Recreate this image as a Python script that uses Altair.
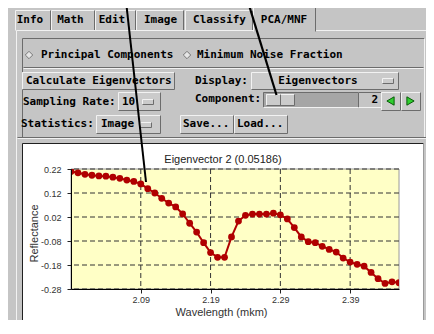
import altair as alt
import pandas as pd

# ---------------- data ----------------
wavelength = [1.99, 2.00, 2.01, 2.02, 2.03, 2.04, 2.05, 2.06, 2.07, 2.08,
              2.09, 2.10, 2.11, 2.12, 2.13, 2.14, 2.15, 2.16, 2.17, 2.18,
              2.19, 2.20, 2.21, 2.22, 2.23, 2.24, 2.25, 2.26, 2.27, 2.28,
              2.29, 2.30, 2.31, 2.32, 2.33, 2.34, 2.35, 2.36, 2.37, 2.38,
              2.39, 2.40, 2.41, 2.42, 2.43, 2.44, 2.45, 2.46]
eigenvector = [0.210, 0.204, 0.198, 0.194, 0.191, 0.190, 0.186, 0.181, 0.174, 0.168,
               0.158, 0.138, 0.120, 0.098, 0.078, 0.062, 0.033, -0.006, -0.043, -0.087,
               -0.128, -0.148, -0.148, -0.063, 0.003, 0.027, 0.032, 0.032, 0.032, 0.036,
               0.029, 0.012, -0.024, -0.063, -0.083, -0.087, -0.102, -0.115, -0.126, -0.151,
               -0.168, -0.177, -0.185, -0.211, -0.237, -0.257, -0.250, -0.254]
x_ticks = [2.09, 2.19, 2.29, 2.39]
y_ticks = [-0.28, -0.18, -0.08, 0.02, 0.12, 0.22]
title_text = "Eigenvector 2 (0.05186)"
x_title = "Wavelength (mkm)"
y_title = "Reflectance"

df = pd.DataFrame({"w": wavelength, "v": eigenvector})
gx = pd.DataFrame({"w": x_ticks})
gy = pd.DataFrame({"v": y_ticks})
one = pd.DataFrame({"k": [0]})

# ---------------- styles ----------------
MONO = "DejaVu Sans Mono"
SANS = "Liberation Sans"
BG = "#c5c5c5"
FACE = "#cbcbcb"
HI = "#f2f2f2"
LO = "#6c6c6c"
RED = "#b00000"
PW, PH = 328, 120
OX, OY = 71, 169   # window position of the plot origin

xs = alt.Scale(domain=[1.99, 2.46], nice=False, zero=False)
ys = alt.Scale(domain=[-0.28, 0.22], nice=False, zero=False)
xaxis = alt.Axis(values=x_ticks, format=".2f", grid=False, title=x_title,
                 labelFont=SANS, labelFontSize=9, labelColor="#333", labelPadding=2,
                 tickSize=4, tickColor="#222", domainColor="#000",
                 titleFont=SANS, titleFontSize=11, titleFontWeight="normal", titleColor="#333",
                 titleX=150, titleY=26, titleBaseline="alphabetic", titleAnchor="middle",
                 zindex=1)
yaxis = alt.Axis(values=y_ticks, grid=False, title=y_title,
                 labelExpr="(datum.value < -0.0001 ? '-' : '') + format(abs(datum.value), '.2f')",
                 labelFont=SANS, labelFontSize=9, labelColor="#333", labelPadding=6,
                 tickSize=4, tickColor="#222", domainColor="#000",
                 titleFont=SANS, titleFontSize=11, titleFontWeight="normal", titleColor="#333",
                 titleAngle=270, titleX=-34, titleY=64, titleBaseline="alphabetic",
                 titleAlign="center", zindex=1)
X = alt.X("w:Q", scale=xs, axis=xaxis)
Y = alt.Y("v:Q", scale=ys, axis=yaxis)


# ---------------- decoration helpers (GUI frame) ----------------
def rect(x1, y1, x2, y2, fill, stroke=None):
    kw = {"fill": fill}
    if stroke:
        kw.update(stroke=stroke, strokeWidth=1)
    else:
        kw.update(strokeWidth=0)
    return alt.Chart(one).mark_rect(**kw).encode(
        x=alt.value(x1 - OX), x2=alt.value(x2 - OX),
        y=alt.value(y1 - OY), y2=alt.value(y2 - OY))


def seg(x1, y1, x2, y2, color, w=1, off=0.5):
    return alt.Chart(one).mark_rule(color=color, strokeWidth=w).encode(
        x=alt.value(x1 - OX + off), x2=alt.value(x2 - OX + off),
        y=alt.value(y1 - OY + off), y2=alt.value(y2 - OY + off))


def bevel(x1, y1, x2, y2, face=FACE, raised=True, fill=True):
    a, b = (HI, LO) if raised else (LO, HI)
    out = [rect(x1, y1, x2, y2, face)] if fill else []
    out += [seg(x1, y1, x2, y1, a), seg(x1, y1, x1, y2, a),
            seg(x1, y2, x2, y2, b), seg(x2, y1, x2, y2, b)]
    return out


def label(x, y, s, align="left", size=11, font=MONO, weight="bold",
          color="#000", baseline="middle"):
    return alt.Chart(one).mark_text(text=s, align=align, baseline=baseline, font=font,
                                    fontSize=size, fontWeight=weight, color=color).encode(
        x=alt.value(x - OX), y=alt.value(y - OY))


def sym(x, y, shape, size, fill, stroke):
    return alt.Chart(one).mark_point(shape=shape, size=size, filled=True, fill=fill,
                                     stroke=stroke, strokeWidth=1, opacity=1).encode(
        x=alt.value(x - OX), y=alt.value(y - OY))


layers = []
tabs = [("Info", 15, 50), ("Math", 51, 94), ("Edit", 95, 135),
        ("Image", 136, 183), ("Classify", 185, 252)]
for name, a, b in tabs:
    layers += [rect(a, 10, b, 30, BG), seg(a, 10, b, 10, HI), seg(a, 10, a, 30, HI),
               seg(b, 10, b, 30, LO)]
layers += bevel(16, 30, 430, 345, BG, True)
layers += [rect(253, 7, 315, 32, BG), seg(253, 7, 315, 7, HI), seg(253, 7, 253, 31, HI),
           seg(315, 7, 315, 31, LO)]
layers += bevel(22, 38, 424, 137, BG, False, fill=False)
layers += [seg(23, 67, 423, 67, LO), seg(23, 68, 423, 68, HI),
           seg(17, 137, 429, 137, LO), seg(17, 138, 429, 138, HI)]
layers += bevel(22, 72, 174, 89)
layers += bevel(251, 72, 398, 89)
layers += bevel(382, 78, 393, 83)
layers += bevel(118, 92, 160, 110)
layers += bevel(142, 99, 153, 104)
layers += bevel(263, 92, 358, 107, "#a6a6a6", False)
layers += bevel(266, 94, 294, 105)
layers += [seg(280, 94, 280, 105, LO)]
layers += bevel(358, 92, 381, 107, BG, False)
layers += bevel(381, 92, 400, 110)
layers += bevel(401, 92, 420, 110)
layers += bevel(96, 115, 160, 133)
layers += bevel(140, 122, 151, 127)
layers += bevel(180, 115, 233, 133)
layers += bevel(234, 115, 287, 133)
layers += [rect(23, 144, 423, 345, "#ffffff"), seg(22, 143, 423, 143, "#202020"),
           seg(22, 143, 22, 345, "#202020"), seg(423, 143, 423, 345, "#9a9a9a")]

# ---------------- plot ----------------
layers.append(alt.Chart(one).mark_rect(fill="#ffffc6", stroke="#9a9a9a", strokeWidth=1).encode(
    x=alt.value(0), x2=alt.value(PW), y=alt.value(0), y2=alt.value(PH)))
layers.append(alt.Chart(gx).mark_rule(color="#333", strokeWidth=1, strokeDash=[5, 3]).encode(x=X))
layers.append(alt.Chart(gy).mark_rule(color="#333", strokeWidth=1, strokeDash=[5, 3]).encode(y=Y))
layers.append(alt.Chart(df).mark_line(color=RED, strokeWidth=2, clip=True).encode(x=X, y=Y))
layers.append(alt.Chart(df).mark_circle(color=RED, size=46, opacity=1, clip=True).encode(x=X, y=Y))
layers.append(label(223, 163, title_text, align="center", font=SANS, weight="normal",
                    color="#222", baseline="alphabetic"))

for name, cx in [("Info", 30), ("Math", 70.5), ("Edit", 112), ("Image", 160.5),
                 ("Classify", 219.5), ("PCA/MNF", 284)]:
    layers.append(label(cx, 20, name, align="center"))
layers += [sym(29, 55, "diamond", 55, "#e6e6e6", "#777"),
           sym(187, 55, "diamond", 55, "#e6e6e6", "#777"),
           label(41, 55, "Principal Components"),
           label(197, 55, "Minimum Noise Fraction"),
           label(26, 81, "Calculate Eigenvectors"),
           label(195, 81, "Display:"),
           label(318, 81, "Eigenvectors", align="center"),
           label(23, 101.5, "Sampling Rate:"),
           label(122, 101.5, "10"),
           label(195, 99, "Component:"),
           label(378, 99.5, "2", align="right"),
           sym(390.5, 101, "triangle-left", 70, "#2fcf2f", "#0a5a0a"),
           sym(410.5, 101, "triangle-right", 70, "#2fcf2f", "#0a5a0a"),
           label(21, 124, "Statistics:"),
           label(101, 124, "Image"),
           label(183, 124, "Save..."),
           label(237, 124, "Load...")]

layers += [seg(125, -8, 146, 182, "#000", 2, 0), seg(245, -8, 276.5, 95, "#000", 2.2, 0)]

chart = alt.layer(*layers).properties(
    width=PW, height=PH,
    padding={"left": 63, "top": 161, "right": 27, "bottom": 31},
    autosize=alt.AutoSizeParams(type="none"),
).configure(background=BG).configure_view(stroke="transparent")

chart.save("out.html", embed_options={"renderer": "svg", "actions": False})
